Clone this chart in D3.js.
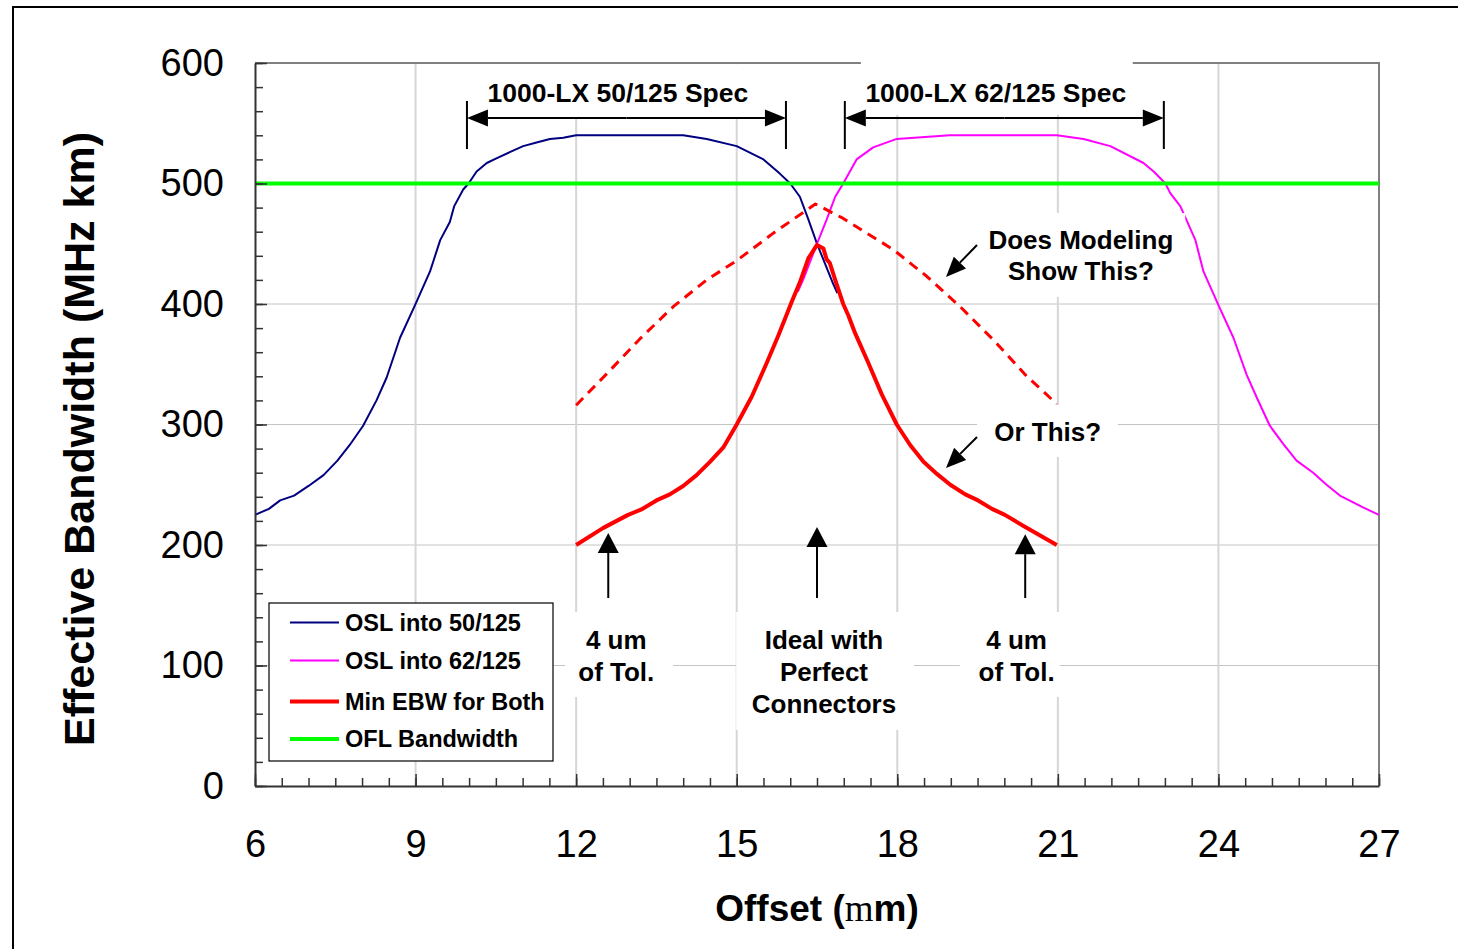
<!DOCTYPE html>
<html>
<head>
<meta charset="utf-8">
<script src="https://cdn.jsdelivr.net/npm/d3@7"></script>
<style>
  body { margin: 0; background: #fff; }
  text { font-family: Arial, "Liberation Sans", sans-serif; }
</style>
</head>
<body>
<svg id="plot"></svg>
<script>
// valores
const osl50X = [6, 6.26, 6.47, 6.73, 7.0, 7.28, 7.54, 7.77, 8.02, 8.27, 8.46, 8.71, 8.99, 9.27, 9.46, 9.64, 9.72, 9.89, 9.99, 10.14, 10.33, 10.52, 10.76, 11.01, 11.26, 11.51, 11.76, 12.0, 14.0, 14.44, 15.0, 15.5, 15.81, 16.0, 16.18, 16.34, 16.5, 16.8, 16.88];
const osl50Y = [225, 230, 237, 241, 249, 258, 270, 283, 299, 320, 339, 372, 399, 427, 453, 468, 481, 495, 500, 510, 517, 521, 526, 531, 534, 537, 538, 540, 540, 537, 531, 520, 508, 500, 489, 470, 450, 417, 409];

const osl62X = [16.14, 16.24, 16.5, 16.68, 16.84, 16.99, 17.24, 17.55, 17.99, 18.98, 20.98, 21.48, 21.98, 22.6, 22.79, 23.01, 23.1, 23.29, 23.57, 23.72, 24.0, 24.28, 24.53, 24.72, 24.96, 25.21, 25.46, 25.77, 26.02, 26.27, 26.71, 27.0];
const osl62Y = [410, 420, 450, 470, 489, 500, 520, 530, 537, 540, 540, 537, 531, 517, 510, 500, 492, 481, 453, 427, 399, 372, 341, 322, 299, 284, 270, 260, 250, 241, 231, 225];

const minX = [12.0, 12.5, 12.97, 13.22, 13.5, 13.75, 14.0, 14.25, 14.5, 14.75, 15.0, 15.28, 15.56, 15.78, 16.03, 16.18, 16.34, 16.5, 16.62, 16.68, 16.74, 16.84, 16.99, 17.09, 17.21, 17.46, 17.71, 17.99, 18.24, 18.49, 18.74, 18.99, 19.27, 19.51, 19.77, 20.01, 20.35, 20.98];
const minY = [200, 214, 225, 229.5, 237, 242, 249, 258, 269, 281, 300, 323, 351, 374, 402, 418, 438, 449, 446, 437, 434, 420, 400, 390, 376, 351, 325, 300, 283, 269, 259, 250, 242, 237, 230, 225, 216, 200];

const modelX = [12.0, 12.57, 13.19, 13.82, 14.44, 15.0, 15.69, 16.47, 16.99, 17.93, 18.55, 19.17, 19.8, 20.42, 20.98];
const modelY = [316, 342, 371, 398, 420, 436, 459, 483, 471, 445, 423, 398, 370, 340, 317];

const oflX = [6, 27];
const oflY = [500, 500];

const xTicks = [6, 9, 12, 15, 18, 21, 24, 27];
const yTicks = [0, 100, 200, 300, 400, 500, 600];
const legendNames = ["OSL into 50/125", "OSL into 62/125", "Min EBW for Both", "OFL Bandwidth"];

// anotaciones (en unidades de los ejes)
const specNames = ["1000-LX 50/125 Spec", "1000-LX 62/125 Spec"];
const specFrom = [9.96, 17.02];
const specTo = [15.92, 22.98];
const specLabelX = [12.78, 19.84];
const tolArrowX = [12.6, 16.5, 20.39];
const tolArrowTip = [210, 215, 209];

const width = 1458, height = 949;
const box = {left: 255, top: 63, right: 1379, bottom: 786};

const svg = d3.select("#plot")
  .attr("width", width)
  .attr("height", height)
  .style("display", "block");

const xScale = d3.scaleLinear().domain([6, 27]).range([box.left, box.right]);
const yScale = d3.scaleLinear().domain([0, 600]).range([box.bottom, box.top]);

const pares = (xs, ys) => xs.map((x, i) => [x, ys[i]]);
const linea = d3.line().x(d => xScale(d[0])).y(d => yScale(d[1]));

// marco exterior
svg.append("rect")
  .attr("x", 13).attr("y", 7)
  .attr("width", 1470).attr("height", 980)
  .attr("fill", "#fff").attr("stroke", "#000").attr("stroke-width", 2);

// rejilla
svg.append("g").selectAll("line")
  .data(yTicks.slice(1, -1))
  .enter().append("line")
  .attr("x1", box.left).attr("x2", box.right)
  .attr("y1", d => yScale(d)).attr("y2", d => yScale(d))
  .attr("stroke", "#c4c4c4").attr("stroke-width", 1);

svg.append("g").selectAll("line")
  .data(xTicks.slice(1, -1))
  .enter().append("line")
  .attr("x1", d => xScale(d)).attr("x2", d => xScale(d))
  .attr("y1", box.top).attr("y2", box.bottom)
  .attr("stroke", "#d6d6d6").attr("stroke-width", 2);

// borde superior y derecho
svg.append("path")
  .attr("d", `M${box.left},${box.top}H${box.right}V${box.bottom}`)
  .attr("fill", "none").attr("stroke", "#808080").attr("stroke-width", 2);

// series
const series = [
  {pts: pares(osl50X, osl50Y), color: "#000080", w: 2},
  {pts: pares(osl62X, osl62Y), color: "#ff00ff", w: 2},
  {pts: pares(oflX, oflY), color: "#00ff00", w: 4},
  {pts: pares(modelX, modelY), color: "#ff0000", w: 3, dash: "10,7"},
  {pts: pares(minX, minY), color: "#ff0000", w: 4}
];

series.forEach(s => {
  svg.append("path")
    .datum(s.pts)
    .attr("d", linea)
    .attr("fill", "none")
    .attr("stroke", s.color)
    .attr("stroke-width", s.w)
    .attr("stroke-linejoin", "round")
    .attr("stroke-dasharray", s.dash || null);
});

// cajas blancas detras de los textos
const cajas = [
  [9.6, 17.3, 599, 554.4],
  [17.32, 22.4, 607, 557],
  [19.51, 23.38, 475.5, 405.8],
  [19.49, 22.12, 316.2, 273],
  [11.79, 13.81, 144.4, 73.9],
  [14.99, 18.31, 144.4, 46.5],
  [19.17, 21.04, 144.4, 73.9]
];
svg.append("g").selectAll("rect")
  .data(cajas)
  .enter().append("rect")
  .attr("x", d => xScale(d[0]))
  .attr("y", d => yScale(d[2]))
  .attr("width", d => xScale(d[1]) - xScale(d[0]))
  .attr("height", d => yScale(d[3]) - yScale(d[2]))
  .attr("fill", "#fff");

function flecha(g, x1, y1, x2, y2, largo, medio) {
  const dx = x2 - x1, dy = y2 - y1, L = Math.hypot(dx, dy);
  const ux = dx / L, uy = dy / L;
  const bx = x2 - ux * largo, by = y2 - uy * largo;
  g.append("line")
    .attr("x1", x1).attr("y1", y1).attr("x2", bx).attr("y2", by)
    .attr("stroke", "#000").attr("stroke-width", 2);
  g.append("polygon")
    .attr("points", [[x2, y2], [bx - uy * medio, by + ux * medio], [bx + uy * medio, by - ux * medio]].join(" "))
    .attr("fill", "#000");
}

const notas = svg.append("g");

// flechas de las especificaciones
specNames.forEach((name, i) => {
  const a = xScale(specFrom[i]), b = xScale(specTo[i]), m = (a + b) / 2, yy = yScale(554.4);
  [a, b].forEach(xx => {
    notas.append("line")
      .attr("x1", xx).attr("x2", xx)
      .attr("y1", yScale(568.5)).attr("y2", yScale(528.6))
      .attr("stroke", "#000").attr("stroke-width", 2);
    flecha(notas, m, yy, xx, yy, 21, 8.5);
  });
  notas.append("text")
    .attr("x", xScale(specLabelX[i])).attr("y", yScale(575))
    .attr("dy", "0.35em")
    .attr("text-anchor", "middle")
    .attr("font-weight", "bold").attr("font-size", 26.5)
    .text(name);
});

// flechas diagonales
flecha(notas, xScale(19.49), yScale(449), xScale(18.91), yScale(422.4), 20, 8.5);
flecha(notas, xScale(19.49), yScale(289.6), xScale(18.91), yScale(263.9), 20, 8.5);

// flechas hacia arriba
tolArrowX.forEach((u, i) => {
  flecha(notas, xScale(u), yScale(156), xScale(u), yScale(tolArrowTip[i]), 20, 10.5);
});

const textos = [
  {t: "Does Modeling", u: 21.43, v: 453.1},
  {t: "Show This?", u: 21.43, v: 427.4},
  {t: "Or This?", u: 20.81, v: 293.8},
  {t: "4 um", u: 12.75, v: 121.2},
  {t: "of Tol.", u: 12.75, v: 94.6},
  {t: "Ideal with", u: 16.63, v: 121.2},
  {t: "Perfect", u: 16.63, v: 94.6},
  {t: "Connectors", u: 16.63, v: 68},
  {t: "4 um", u: 20.23, v: 121.2},
  {t: "of Tol.", u: 20.23, v: 94.6}
];
notas.selectAll("text.nota")
  .data(textos)
  .enter().append("text")
  .attr("class", "nota")
  .attr("x", d => xScale(d.u))
  .attr("y", d => yScale(d.v))
  .attr("dy", "0.35em")
  .attr("text-anchor", "middle")
  .attr("font-weight", "bold").attr("font-size", 26)
  .text(d => d.t);

// ejes
const estiloEje = g => {
  g.select(".domain").attr("stroke", "#333").attr("stroke-width", 2);
  g.selectAll(".tick line").attr("stroke", "#333").attr("stroke-width", 1.5);
  g.selectAll("text").attr("fill", "#000").attr("font-size", 38)
    .attr("font-family", "Arial, 'Liberation Sans', sans-serif");
};

svg.append("g")
  .attr("transform", `translate(${box.left},0)`)
  .call(d3.axisLeft(yScale).tickValues(d3.range(0, 601, 20)).tickSize(-8).tickFormat(""))
  .call(g => g.select(".domain").remove())
  .call(estiloEje);

svg.append("g")
  .attr("transform", `translate(0,${box.bottom})`)
  .call(d3.axisBottom(xScale).tickValues(d3.range(6, 27.01, 0.5)).tickSize(-8).tickFormat(""))
  .call(g => g.select(".domain").remove())
  .call(estiloEje);

svg.append("g")
  .attr("transform", `translate(${box.left},0)`)
  .call(d3.axisLeft(yScale).tickValues(yTicks).tickSizeInner(-12).tickSizeOuter(0).tickPadding(31))
  .call(estiloEje);

svg.append("g")
  .attr("transform", `translate(0,${box.bottom})`)
  .call(d3.axisBottom(xScale).tickValues(xTicks).tickSizeInner(-12).tickSizeOuter(0).tickPadding(44))
  .call(estiloEje);

// titulos de los ejes
const tx = svg.append("text")
  .attr("x", 817).attr("y", 921)
  .attr("text-anchor", "middle")
  .attr("font-weight", "bold").attr("font-size", 37);
tx.append("tspan").text("Offset (");
tx.append("tspan").attr("font-family", "'Times New Roman', 'Liberation Serif', serif")
  .attr("font-weight", "normal").text("m");
tx.append("tspan").text("m)");

svg.append("text")
  .attr("transform", "translate(94,439) rotate(-90)")
  .attr("text-anchor", "middle")
  .attr("font-weight", "bold").attr("font-size", 43)
  .text("Effective Bandwidth (MHz km)");

// leyenda
const leyenda = svg.append("g").attr("transform", "translate(269,603)");
leyenda.append("rect")
  .attr("width", 284).attr("height", 158)
  .attr("fill", "#fff").attr("stroke", "#000").attr("stroke-width", 1.2);

const filas = [19.5, 57.5, 98.5, 136];
const legendStyle = [series[0], series[1], series[4], series[2]];
legendNames.forEach((name, i) => {
  leyenda.append("line")
    .attr("x1", 21).attr("x2", 70)
    .attr("y1", filas[i]).attr("y2", filas[i])
    .attr("stroke", legendStyle[i].color)
    .attr("stroke-width", legendStyle[i].w);
  leyenda.append("text")
    .attr("x", 76).attr("y", filas[i])
    .attr("dy", "0.35em")
    .attr("font-weight", "bold").attr("font-size", 23.5)
    .text(name);
});
</script>
</body>
</html>
